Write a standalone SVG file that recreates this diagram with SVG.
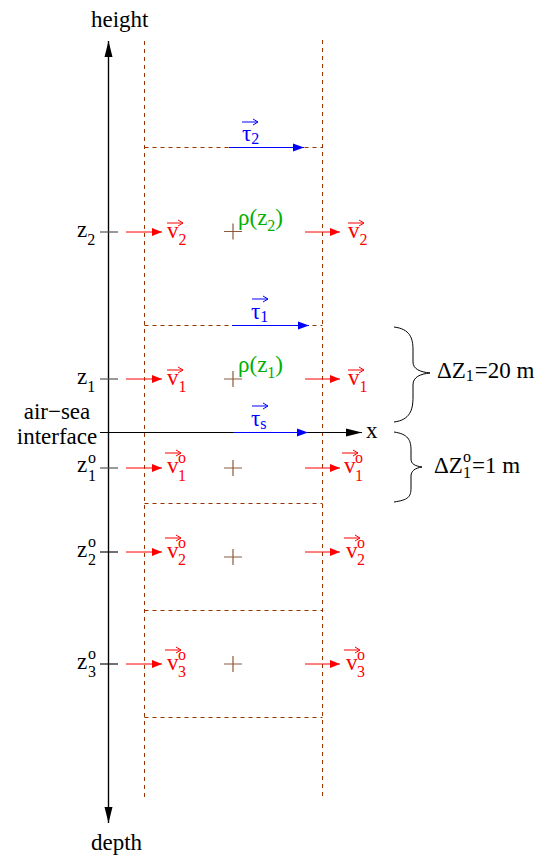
<svg xmlns="http://www.w3.org/2000/svg" width="542" height="862" viewBox="0 0 542 862">
<defs>
<marker id="ar" markerUnits="userSpaceOnUse" markerWidth="11" markerHeight="9" refX="10" refY="4.5" orient="auto"><path d="M0,0.5 L10,4.5 L0,8.5 z" fill="#ff0000"/></marker>
<marker id="ab" markerUnits="userSpaceOnUse" markerWidth="12" markerHeight="9" refX="11" refY="4.5" orient="auto"><path d="M0,0.5 L11,4.5 L0,8.5 z" fill="#0000ff"/></marker>
<marker id="ak" markerUnits="userSpaceOnUse" markerWidth="17" markerHeight="9" refX="16" refY="4.5" orient="auto"><path d="M0,0.5 L16,4.5 L0,8.5 z" fill="#000"/></marker>
<path id="oa" d="M0,0 H16 M11,-3 L16,0 L11,3" fill="none" stroke-width="1"/>
<path id="pl" d="M-9,0 H9 M0,-8 V8" fill="none" stroke="#8b5a3a" stroke-width="1.2"/>
</defs>

<g id="grid" stroke="#993300" stroke-width="1" stroke-dasharray="4 4" fill="none">
<line x1="144.5" y1="41" x2="144.5" y2="797"/>
<line x1="322.5" y1="40" x2="322.5" y2="797"/>
<line x1="144.5" y1="147.5" x2="322.5" y2="147.5"/>
<line x1="144.5" y1="325.5" x2="322.5" y2="325.5"/>
<line x1="144.5" y1="503.5" x2="322.5" y2="503.5"/>
<line x1="144.5" y1="610.5" x2="322.5" y2="610.5"/>
<line x1="144.5" y1="717.5" x2="322.5" y2="717.5"/>
</g>

<g id="axes">
<line x1="108.5" y1="823" x2="108.5" y2="41" stroke="#000" stroke-width="1.2" marker-end="url(#ak)"/>
<line x1="108.5" y1="41" x2="108.5" y2="823" stroke="#000" stroke-width="1.2" marker-end="url(#ak)"/>
<line x1="100" y1="432.5" x2="362" y2="432.5" stroke="#000" stroke-width="1.2" marker-end="url(#ak)"/>
<text x="91" y="27" style="font-family:'Liberation Serif'" font-size="23">height</text>
<text x="91" y="850" style="font-family:'Liberation Serif'" font-size="23">depth</text>
<text x="366" y="438" style="font-family:'Liberation Serif'" font-size="23">x</text>
<text x="57" y="419" style="font-family:'Liberation Serif'" font-size="23" text-anchor="middle">air−sea</text>
<text x="57" y="444" style="font-family:'Liberation Serif'" font-size="23" text-anchor="middle">interface</text>
</g>

<g id="connectors">
<g stroke="#0000ff" stroke-width="1.1" marker-end="url(#ab)">
<line x1="229" y1="147.5" x2="304" y2="147.5"/>
<line x1="232" y1="325.5" x2="309" y2="325.5"/>
<line x1="233" y1="432.5" x2="308" y2="432.5"/>
</g>
<g stroke="#ff0000" stroke-width="1" marker-end="url(#ar)">
<line x1="126" y1="232" x2="162" y2="232"/>
<line x1="305" y1="232" x2="340" y2="232"/>
<line x1="126" y1="379" x2="162" y2="379"/>
<line x1="305" y1="379" x2="340" y2="379"/>
<line x1="126" y1="468" x2="162" y2="468"/>
<line x1="305" y1="468" x2="340" y2="468"/>
<line x1="126" y1="552" x2="162" y2="552"/>
<line x1="305" y1="552" x2="340" y2="552"/>
<line x1="126" y1="664" x2="162" y2="664"/>
<line x1="305" y1="664" x2="340" y2="664"/>
</g>
</g>

<g id="tau2">
<text x="242" y="141" style="font-family:'Liberation Serif'" font-size="23" fill="#0000ff">τ<tspan font-size="16" dy="3">2</tspan></text>
<use href="#oa" x="242" y="122" stroke="#0000ff"/>
</g>
<g id="tau1">
<text x="251" y="319" style="font-family:'Liberation Serif'" font-size="23" fill="#0000ff">τ<tspan font-size="16" dy="3">1</tspan></text>
<use href="#oa" x="252" y="299" stroke="#0000ff"/>
</g>
<g id="taus">
<text x="251" y="426" style="font-family:'Liberation Serif'" font-size="23" fill="#0000ff">τ<tspan font-size="16" dy="3">s</tspan></text>
<use href="#oa" x="252" y="406" stroke="#0000ff"/>
</g>

<g id="row-z2">
<line x1="100" y1="232" x2="118" y2="232" stroke="#555" stroke-width="1.2"/>
<text x="77" y="237" style="font-family:'Liberation Serif'" font-size="23">z<tspan font-size="16" dy="8">2</tspan></text>
<use href="#pl" x="233" y="231.5"/>
<text x="238" y="225" style="font-family:'Liberation Serif'" font-size="23" fill="#00b000">ρ(z<tspan font-size="16" dy="6">2</tspan><tspan dy="-6">)</tspan></text>
<text x="167" y="238" style="font-family:'Liberation Serif'" font-size="23" fill="#ff0000">v<tspan font-size="16" dy="7">2</tspan></text>
<use href="#oa" x="167" y="223" stroke="#ff0000"/>
<text x="348" y="238" style="font-family:'Liberation Serif'" font-size="23" fill="#ff0000">v<tspan font-size="16" dy="7">2</tspan></text>
<use href="#oa" x="348" y="223" stroke="#ff0000"/>
</g>

<g id="row-z1">
<line x1="100" y1="379" x2="118" y2="379" stroke="#555" stroke-width="1.2"/>
<text x="77" y="384" style="font-family:'Liberation Serif'" font-size="23">z<tspan font-size="16" dy="8">1</tspan></text>
<use href="#pl" x="233" y="379"/>
<text x="238" y="372" style="font-family:'Liberation Serif'" font-size="23" fill="#00b000">ρ(z<tspan font-size="16" dy="6">1</tspan><tspan dy="-6">)</tspan></text>
<text x="167" y="385" style="font-family:'Liberation Serif'" font-size="23" fill="#ff0000">v<tspan font-size="16" dy="7">1</tspan></text>
<use href="#oa" x="167" y="370" stroke="#ff0000"/>
<text x="348" y="385" style="font-family:'Liberation Serif'" font-size="23" fill="#ff0000">v<tspan font-size="16" dy="7">1</tspan></text>
<use href="#oa" x="348" y="370" stroke="#ff0000"/>
</g>

<g id="row-z1o">
<line x1="100" y1="468" x2="118" y2="468" stroke="#555" stroke-width="1.2"/>
<text x="77" y="472" style="font-family:'Liberation Serif'" font-size="23">z</text>
<text x="88" y="463" style="font-family:'Liberation Serif'" font-size="16">o</text>
<text x="88" y="481" style="font-family:'Liberation Serif'" font-size="16">1</text>
<use href="#pl" x="233" y="468"/>
<text x="167" y="473" style="font-family:'Liberation Serif'" font-size="23" fill="#ff0000">v</text>
<text x="178" y="463" style="font-family:'Liberation Serif'" font-size="16" fill="#ff0000">o</text>
<text x="178" y="481" style="font-family:'Liberation Serif'" font-size="16" fill="#ff0000">1</text>
<use href="#oa" x="165" y="453" stroke="#ff0000"/>
<text x="344" y="473" style="font-family:'Liberation Serif'" font-size="23" fill="#ff0000">v</text>
<text x="355" y="463" style="font-family:'Liberation Serif'" font-size="16" fill="#ff0000">o</text>
<text x="355" y="481" style="font-family:'Liberation Serif'" font-size="16" fill="#ff0000">1</text>
<use href="#oa" x="342" y="453" stroke="#ff0000"/>
</g>

<g id="row-z2o">
<line x1="100" y1="552" x2="118" y2="552" stroke="#111" stroke-width="1.2"/>
<text x="77" y="557" style="font-family:'Liberation Serif'" font-size="23">z</text>
<text x="88" y="547" style="font-family:'Liberation Serif'" font-size="16">o</text>
<text x="88" y="565" style="font-family:'Liberation Serif'" font-size="16">2</text>
<use href="#pl" x="233" y="557"/>
<text x="167" y="558" style="font-family:'Liberation Serif'" font-size="23" fill="#ff0000">v</text>
<text x="178" y="548" style="font-family:'Liberation Serif'" font-size="16" fill="#ff0000">o</text>
<text x="178" y="565" style="font-family:'Liberation Serif'" font-size="16" fill="#ff0000">2</text>
<use href="#oa" x="165" y="538" stroke="#ff0000"/>
<text x="346" y="558" style="font-family:'Liberation Serif'" font-size="23" fill="#ff0000">v</text>
<text x="357" y="548" style="font-family:'Liberation Serif'" font-size="16" fill="#ff0000">o</text>
<text x="357" y="565" style="font-family:'Liberation Serif'" font-size="16" fill="#ff0000">2</text>
<use href="#oa" x="344" y="538" stroke="#ff0000"/>
</g>

<g id="row-z3o">
<line x1="100" y1="664" x2="118" y2="664" stroke="#111" stroke-width="1.2"/>
<text x="77" y="669" style="font-family:'Liberation Serif'" font-size="23">z</text>
<text x="88" y="659" style="font-family:'Liberation Serif'" font-size="16">o</text>
<text x="88" y="677" style="font-family:'Liberation Serif'" font-size="16">3</text>
<use href="#pl" x="233" y="664"/>
<text x="167" y="670" style="font-family:'Liberation Serif'" font-size="23" fill="#ff0000">v</text>
<text x="178" y="660" style="font-family:'Liberation Serif'" font-size="16" fill="#ff0000">o</text>
<text x="178" y="677" style="font-family:'Liberation Serif'" font-size="16" fill="#ff0000">3</text>
<use href="#oa" x="165" y="650" stroke="#ff0000"/>
<text x="346" y="670" style="font-family:'Liberation Serif'" font-size="23" fill="#ff0000">v</text>
<text x="357" y="660" style="font-family:'Liberation Serif'" font-size="16" fill="#ff0000">o</text>
<text x="357" y="677" style="font-family:'Liberation Serif'" font-size="16" fill="#ff0000">3</text>
<use href="#oa" x="344" y="650" stroke="#ff0000"/>
</g>

<g id="brace-dz1">
<path d="M394,327 C410,329 413,338 413,350 L413,362 C413,369 420,372 430,373 C420,374 413,377 413,385 L413,397 C413,410 410,420 394,422" fill="none" stroke="#000" stroke-width="1"/>
<text x="437" y="378" style="font-family:'Liberation Serif'" font-size="23">ΔZ<tspan font-size="16" dy="3">1</tspan><tspan dy="-3" dx="1">=20 m</tspan></text>
</g>
<g id="brace-dz1o">
<path d="M394,432 C408,434 411,440 411,450 L411,459 C411,464 415,466 422,467 C415,468 411,471 411,476 L411,488 C411,497 408,500 394,502" fill="none" stroke="#000" stroke-width="1"/>
<text x="434" y="473" style="font-family:'Liberation Serif'" font-size="23">ΔZ</text>
<text x="463" y="462" style="font-family:'Liberation Serif'" font-size="16">o</text>
<text x="463" y="478" style="font-family:'Liberation Serif'" font-size="16">1</text>
<text x="472" y="473" style="font-family:'Liberation Serif'" font-size="23">=1 m</text>
</g>
</svg>
